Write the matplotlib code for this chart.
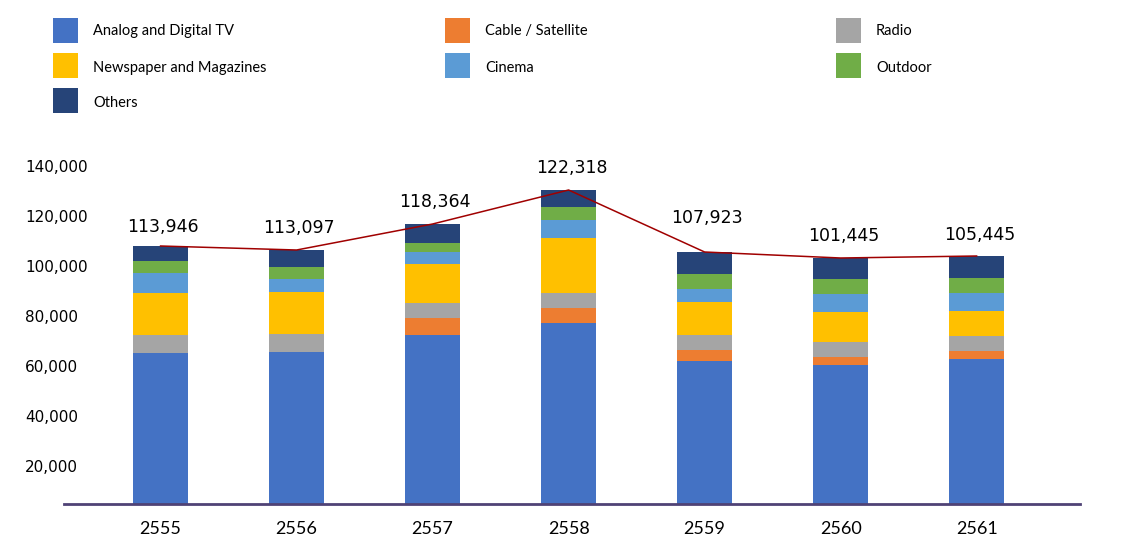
import matplotlib
matplotlib.use("Agg")
import matplotlib.pyplot as plt
from matplotlib.patches import Rectangle
import numpy as np

# advertising spend by media, stacked per year (B.E.)
years = ['2555', '2556', '2557', '2558', '2559', '2560', '2561']
tv = [65200, 65700, 72400, 77200, 62000, 60400, 62800]
cable = [0, 0, 6800, 6000, 4400, 3200, 3200]
radio = [7200, 7200, 6000, 6000, 6000, 6000, 6100]
newspaper = [16800, 16700, 15600, 22000, 13200, 12000, 9900]
cinema = [8000, 5200, 4800, 7300, 5200, 7300, 7200]
outdoor = [4800, 4800, 3600, 5100, 6000, 5900, 6000]
others = [6000, 6800, 7600, 6800, 8800, 8400, 8800]
totals = [113946, 113097, 118364, 122318, 107923, 101445, 105445]

series = [
    ('Analog and Digital TV', tv, '#4472C4'),
    ('Cable / Satellite', cable, '#ED7D31'),
    ('Radio', radio, '#A5A5A5'),
    ('Newspaper and Magazines', newspaper, '#FFC000'),
    ('Cinema', cinema, '#5B9BD5'),
    ('Outdoor', outdoor, '#70AD47'),
    ('Others', others, '#264478'),
]

W, H = 1140, 558
narrow = ['Lato', 'DejaVu Sans']

fig = plt.figure(figsize=(W / 100, H / 100), dpi=100)
ax = fig.add_axes([64 / W, 54 / H, 1016 / W, 363 / H])

x = np.arange(len(years))
bottom = np.zeros(len(years))
for name, vals, col in series:
    ax.bar(x, vals, width=0.404, bottom=bottom, color=col, label=name)
    bottom += np.array(vals)

# red line across the stack tops
ax.plot(x, bottom, color='#A00000', lw=1.1, zorder=3)

# total labels (offsets in points)
label_off = [14, 16, 16, 16, 24.5, 16, 15]
for i, v in enumerate(totals):
    ax.annotate(f'{v:,}', (x[i], bottom[i]), xytext=(2, label_off[i]),
                textcoords='offset points', ha='center', va='center',
                fontsize=12.5, color='black')

ax.set_xlim(-0.71, 6.76)
ax.set_ylim(4800, 150000)
ax.set_yticks(np.arange(20000, 140001, 20000))
ax.set_yticklabels([f'{t:,}' for t in range(20000, 140001, 20000)])
ax.set_xticks(x)
ax.set_xticklabels(years, family=narrow, fontsize=13)

for s in ['top', 'right', 'left']:
    ax.spines[s].set_visible(False)
ax.spines['bottom'].set_color('#4F4275')
ax.spines['bottom'].set_linewidth(2)
ax.tick_params(axis='x', length=0, pad=12)
ax.tick_params(axis='y', length=0, pad=28, labelsize=11)
for lab in ax.get_yticklabels():
    lab.set_ha('left')

# legend laid out in a 3-column grid (row-major, like the original)
col_x = [53, 445, 836]
row_top = [18, 53, 88]
text_y = [31, 68, 103]
for k, (name, vals, col) in enumerate(series):
    r, c = divmod(k, 3)
    px, py = col_x[c], row_top[r]
    fig.add_artist(Rectangle((px / W, 1 - (py + 25) / H), 25 / W, 25 / H,
                             transform=fig.transFigure, color=col, lw=0))
    fig.text((px + 40) / W, 1 - text_y[r] / H, name, ha='left', va='center',
             family=narrow, fontsize=10.5)

fig.savefig('out.png', dpi=100)
